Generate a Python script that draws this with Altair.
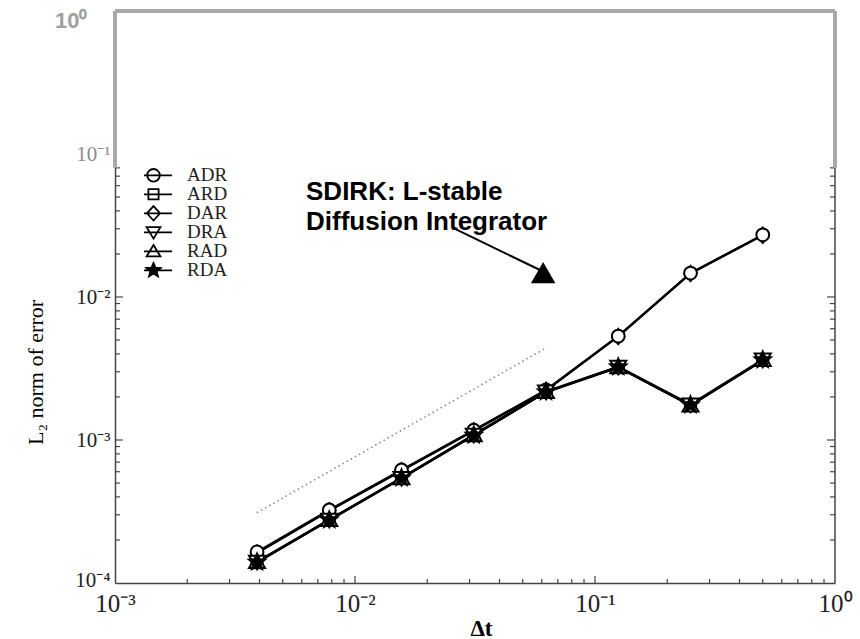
import math
import altair as alt
import pandas as pd

# ---------------- data ----------------
series_names = ["ADR", "ARD", "DAR", "DRA", "RAD", "RDA"]
draw_order = ["DAR", "ADR", "ARD", "DRA", "RAD", "RDA"]
dt = [0.00390625, 0.0078125, 0.015625, 0.03125, 0.0625, 0.125, 0.25, 0.5]
err_ADR = [1.65e-4, 3.24e-4, 6.17e-4, 1.17e-3, 2.24e-3, 5.33e-3, 1.47e-2, 2.72e-2]
err_ARD = [1.39e-4, 2.75e-4, 5.40e-4, 1.08e-3, 2.16e-3, 3.22e-3, 1.75e-3, 3.60e-3]
err_DAR = [1.62e-4, 3.20e-4, 6.10e-4, 1.16e-3, 2.22e-3, 5.30e-3, 1.46e-2, 2.70e-2]
err_DRA = [1.41e-4, 2.77e-4, 5.43e-4, 1.09e-3, 2.18e-3, 3.25e-3, 1.77e-3, 3.65e-3]
err_RAD = [1.40e-4, 2.76e-4, 5.41e-4, 1.08e-3, 2.17e-3, 3.23e-3, 1.74e-3, 3.62e-3]
err_RDA = [1.40e-4, 2.76e-4, 5.42e-4, 1.08e-3, 2.17e-3, 3.24e-3, 1.76e-3, 3.63e-3]

# first-order reference slope (dotted)
ref_x = [0.0039, 0.0625]
ref_y = [3.1e-4, 4.4e-3]

# annotation
note_lines = ["SDIRK: L-stable", "Diffusion Integrator"]
note_x = [0.00625]
note_y = [0.0477]
arrow_x = [0.0256]
arrow_y = [0.0304]
arrow_x2 = [0.059]
arrow_y2 = [0.01545]
head_x = [0.0608]
head_y = [0.0148]

# axes
x_decades = [1e-3, 1e-2, 1e-1, 1.0]
y_decades = [1e-4, 1e-3, 1e-2, 1e-1, 1.0]
multipliers = [2, 3, 4, 5, 6, 7, 8, 9]
box_split = 0.08  # where the grey frame takes over from the black axes

# ---------------- layout ----------------
W, H = 720, 572
SERIF = "Liberation Serif"
SANS = "Liberation Sans"
AXIS_BLACK = "#444444"
FRAME_GREY = "#a8a8a8"

errs = dict(zip(series_names, [err_ADR, err_ARD, err_DAR, err_DRA, err_RAD, err_RDA]))
rows = []
for name in draw_order:
    for x, y in zip(dt, errs[name]):
        rows.append({"series": name, "dt": x, "err": y})
df = pd.DataFrame(rows)

xs = alt.Scale(type="log", domain=[1e-3, 1.0], nice=False)
ys = alt.Scale(type="log", domain=[1e-4, 1.0], nice=False)


def star_path(r_out, r_in, n=5):
    pts = []
    for i in range(2 * n):
        r = r_out if i % 2 == 0 else r_in
        a = -math.pi / 2 + i * math.pi / n
        pts.append((r * math.cos(a), r * math.sin(a)))
    return "M" + "L".join(f"{px:.3f},{py:.3f}" for px, py in pts) + "Z"


def circle_path(r):
    return f"M{r},0A{r},{r},0,1,1,{-r},0A{r},{r},0,1,1,{r},0Z"


# plot markers (size 256 -> 8 px per unit)
plot_shapes = [
    circle_path(0.8),
    "M-0.7,-0.7H0.7V0.7H-0.7Z",
    "M0,-0.95L0.75,0L0,0.95L-0.75,0Z",
    "M-1,-0.75L1,-0.75L0,0.95Z",
    "M0,-0.95L1,0.75L-1,0.75Z",
    star_path(1.05, 0.45),
]

# legend symbols: a line through the marker (size 144 -> 6 px per unit)
LINE = "M-3.1,0H3.1"
legend_shapes = [
    LINE + circle_path(1.05),
    LINE + "M-0.85,-0.85H0.85V0.85H-0.85Z",
    LINE + "M0,-1.2L1.1,0L0,1.2L-1.1,0Z",
    LINE + "M-1.15,-0.85L1.15,-0.85L0,1.05Z",
    LINE + "M0,-1.05L1.15,0.85L-1.15,0.85Z",
    LINE + star_path(1.25, 0.55) + star_path(0.8, 0.35) + star_path(0.4, 0.18),
]

sup = ("(round(log(datum.value)/LN10)==0?'⁰':"
       "round(log(datum.value)/LN10)==-1?'⁻¹':"
       "round(log(datum.value)/LN10)==-2?'⁻²':"
       "round(log(datum.value)/LN10)==-3?'⁻³':'⁻⁴')")
label_expr = "'10' + " + sup

x_axis = alt.Axis(
    values=x_decades, labelExpr=label_expr, ticks=False, grid=False,
    domain=True, domainColor=AXIS_BLACK, domainWidth=1.5,
    labelFont=SERIF, labelFontSize=25, labelColor="#222222", labelPadding=8,
    labelFlush=False, labelOverlap=False,
    title="Δt", titleFont=SERIF, titleFontSize=23, titleFontWeight="bold",
    titleColor="black", titleX=366, titleY=45, titleBaseline="middle",
    titleAnchor="start", titleAlign="center",
)
TOP = "datum.value >= 1"
SECOND = "datum.value >= 0.05 && datum.value < 1"
BOTTOM = "datum.value < 0.0002"
y_axis = alt.Axis(
    values=y_decades, labelExpr=label_expr, ticks=False, grid=False,
    domain=True, domainColor=AXIS_BLACK, domainWidth=1.5,
    labelFont={"condition": {"test": TOP, "value": SANS}, "value": SERIF},
    labelFontWeight={"condition": {"test": TOP, "value": "bold"}, "value": "normal"},
    labelColor={"condition": [{"test": TOP, "value": "#a0a0a0"},
                              {"test": SECOND, "value": "#8c8c8c"}], "value": "#222222"},
    labelFontSize={"condition": {"test": TOP, "value": 22}, "value": 21},
    labelOffset={"condition": [{"test": TOP, "value": 9},
                               {"test": BOTTOM, "value": -3}], "value": 0},
    labelPadding={"condition": {"test": TOP, "value": 28}, "value": 5},
    labelOverlap=False, labelFlush=False,
    title="L₂ norm of error", titleFont=SERIF, titleFontSize=22,
    titleFontWeight="normal", titleColor="black", titleAngle=270,
    titleX=-80, titleY=361, titleBaseline="middle", titleAlign="center",
)

X = lambda f: alt.X(f, scale=xs, axis=x_axis)
Y = lambda f: alt.Y(f, scale=ys, axis=y_axis)

# ----- tick marks (inward) -----
x_minor = [m * d for d in x_decades[:-1] for m in multipliers]
y_minor = [m * d for d in y_decades[:-1] for m in multipliers if m * d <= box_split]
y_major_ticks = [v for v in y_decades if 1e-4 < v <= box_split]

tick_style = dict(color=AXIS_BLACK, strokeWidth=1.2)
xt_major = alt.Chart(pd.DataFrame({"v": x_decades[1:-1]})).mark_rule(**tick_style).encode(
    x=X("v:Q"), y=alt.value(H), y2=alt.value(H - 7))
xt_minor = alt.Chart(pd.DataFrame({"v": x_minor})).mark_rule(**tick_style).encode(
    x=X("v:Q"), y=alt.value(H), y2=alt.value(H - 4))
yl_major = alt.Chart(pd.DataFrame({"v": y_major_ticks})).mark_rule(**tick_style).encode(
    y=Y("v:Q"), x=alt.value(0), x2=alt.value(8))
yl_minor = alt.Chart(pd.DataFrame({"v": y_minor})).mark_rule(**tick_style).encode(
    y=Y("v:Q"), x=alt.value(0), x2=alt.value(5))
yr_major = alt.Chart(pd.DataFrame({"v": y_major_ticks})).mark_rule(**tick_style).encode(
    y=Y("v:Q"), x=alt.value(W), x2=alt.value(W - 8))
yr_minor = alt.Chart(pd.DataFrame({"v": y_minor})).mark_rule(**tick_style).encode(
    y=Y("v:Q"), x=alt.value(W), x2=alt.value(W - 5))

# ----- frame -----
right_axis = alt.Chart(pd.DataFrame({"x": [1.0], "x2": [1.0], "y": [1e-4], "y2": [box_split]})).mark_rule(
    color=AXIS_BLACK, strokeWidth=1.5).encode(x=X("x:Q"), x2="x2:Q", y=Y("y:Q"), y2="y2:Q")
grey_frame = alt.Chart(pd.DataFrame({
    "x": [1e-3, 1e-3, 1.0], "x2": [1.0, 1e-3, 1.0],
    "y": [1.0, box_split, box_split], "y2": [1.0, 1.0, 1.0],
})).mark_rule(color=FRAME_GREY, strokeWidth=4).encode(
    x=X("x:Q"), x2="x2:Q", y=Y("y:Q"), y2="y2:Q")

# ----- reference slope -----
ref = alt.Chart(pd.DataFrame({"x": ref_x, "y": ref_y})).mark_line(
    color="#8a8a8a", strokeWidth=1.6, strokeDash=[1.5, 3.2]).encode(x=X("x:Q"), y=Y("y:Q"))

# ----- data -----
lines = alt.Chart(df).mark_line(color="black", strokeWidth=2.2).encode(
    x=X("dt:Q"), y=Y("err:Q"),
    detail="series:N",
    order="dt:Q",
)
points = alt.Chart(df).mark_point(filled=True, stroke="black", strokeWidth=2, size=256, opacity=1).encode(
    x=X("dt:Q"), y=Y("err:Q"),
    shape=alt.Shape("series:N", scale=alt.Scale(domain=series_names, range=plot_shapes), legend=None),
    fill=alt.condition(alt.datum.series == "RDA", alt.value("black"), alt.value("white")),
)

# legend-only layer (points lie outside the domain and are clipped away)
legend_df = pd.DataFrame({"series": series_names, "dt": [1e-6] * 6, "err": [1e-8] * 6})
legend_layer = alt.Chart(legend_df).mark_point(
    filled=False, color="black", strokeWidth=1.8, clip=True, opacity=1).encode(
    x=X("dt:Q"), y=Y("err:Q"),
    shape=alt.Shape("series:N", scale=alt.Scale(domain=series_names, range=legend_shapes),
                    legend=alt.Legend(
                        title=None, orient="none", legendX=29, legendY=155.5,
                        symbolSize=144, symbolStrokeWidth=1.8, symbolStrokeColor="black",
                        symbolFillColor="transparent", symbolOpacity=1,
                        labelFont=SERIF, labelFontSize=19, labelColor="#222222",
                        labelOffset=24, rowPadding=-1.4, padding=0, symbolOffset=0,
                        clipHeight=17.6,
                    )),
)

# ----- annotation -----
note = alt.Chart(pd.DataFrame({"x": note_x, "y": note_y})).mark_text(
    text=note_lines, font=SANS, fontSize=26, fontWeight="bold", color="black",
    align="left", baseline="alphabetic", lineHeight=30).encode(x=X("x:Q"), y=Y("y:Q"))
arrow = alt.Chart(pd.DataFrame({"x": arrow_x, "y": arrow_y, "x2": arrow_x2, "y2": arrow_y2})).mark_rule(
    color="black", strokeWidth=2).encode(x=X("x:Q"), y=Y("y:Q"), x2="x2:Q", y2="y2:Q")
head = alt.Chart(pd.DataFrame({"x": head_x, "y": head_y})).mark_point(
    shape="triangle-up", filled=True, color="black", size=600, opacity=1).encode(x=X("x:Q"), y=Y("y:Q"))

chart = alt.layer(
    lines, xt_major, xt_minor, yl_major, yl_minor, yr_major, yr_minor, right_axis,
    ref, points, legend_layer, grey_frame, note, arrow, head,
).resolve_scale(shape="independent").properties(
    width=W, height=H,
    autosize=alt.AutoSizeParams(type="none"),
    padding={"left": 115, "top": 11, "right": 25, "bottom": 56},
    background="white",
).configure_view(stroke=None)

chart.save("out.html", embed_options={"renderer": "svg", "actions": False})
